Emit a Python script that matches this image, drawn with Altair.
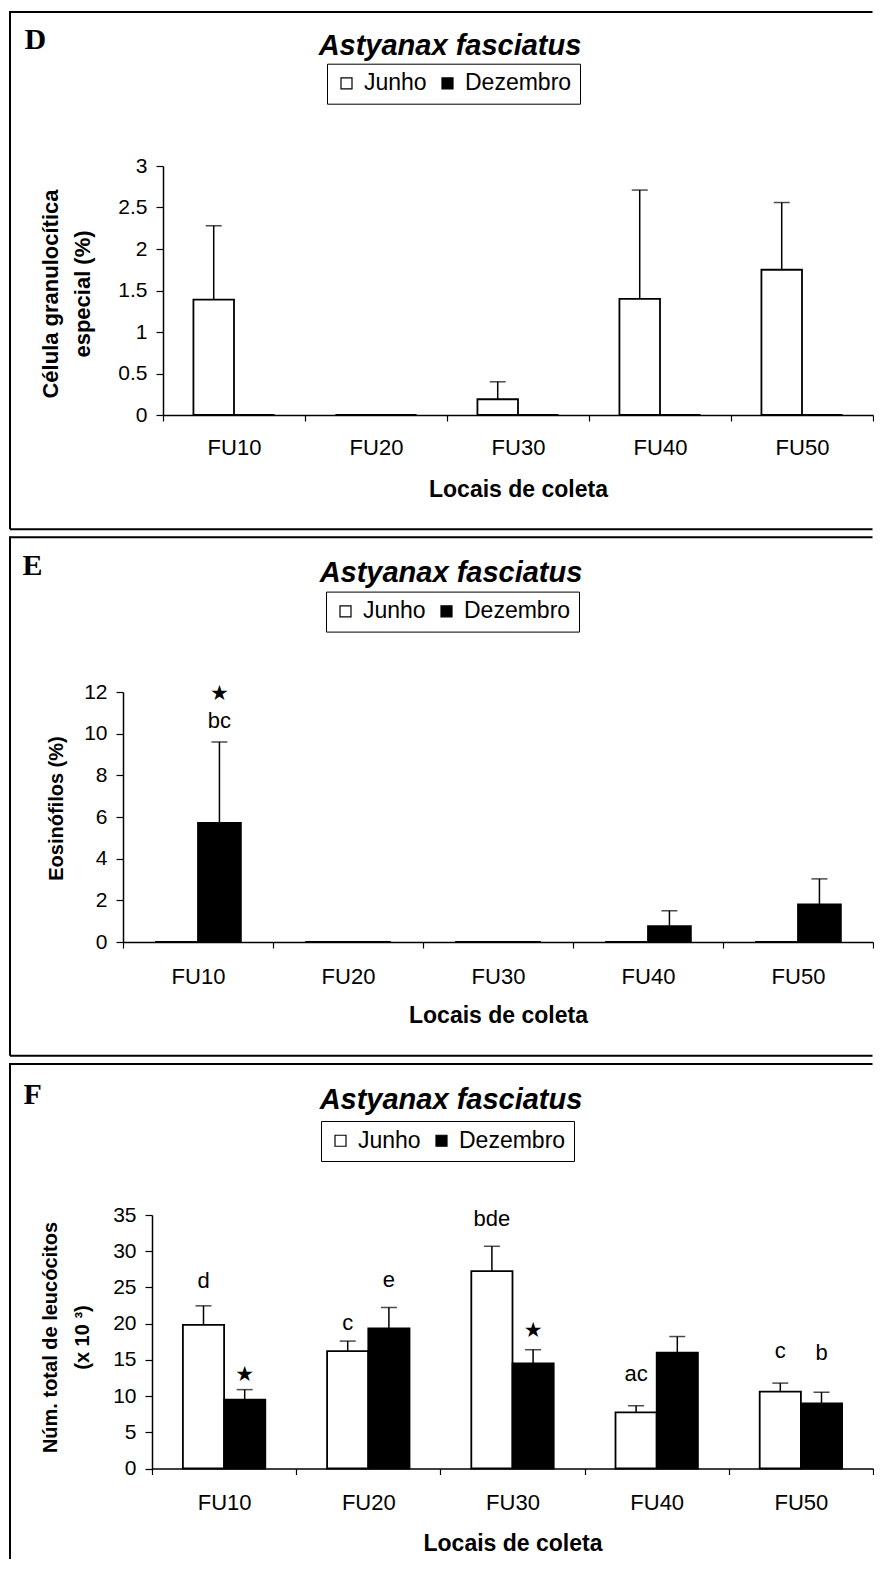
import altair as alt
import pandas as pd

# ---------------- data ----------------
sites = ["FU10", "FU20", "FU30", "FU40", "FU50"]
months = ["Junho", "Dezembro"]

# Panel D  (Célula granulocítica especial, %)
d_junho = [1.39, 0.0, 0.19, 1.40, 1.75]
d_junho_up = [2.28, None, 0.40, 2.71, 2.56]
d_dez = [0.0, 0.0, 0.0, 0.0, 0.0]
d_dez_up = [None, None, None, None, None]
d_ann_site, d_ann_month, d_ann_text, d_ann_y = [], [], [], []
d_star_site, d_star_month, d_star_y = [], [], []

# Panel E  (Eosinófilos, %)
e_junho = [0.0, 0.0, 0.0, 0.0, 0.0]
e_junho_up = [None, None, None, None, None]
e_dez = [5.72, 0.0, 0.0, 0.76, 1.81]
e_dez_up = [9.60, None, None, 1.50, 3.03]
e_ann_site, e_ann_month, e_ann_text, e_ann_y = ["FU10"], ["Dezembro"], ["bc"], [10.27]
e_star_site, e_star_month, e_star_y = ["FU10"], ["Dezembro"], [11.9]

# Panel F  (Núm. total de leucócitos, x10^3)
f_junho = [19.84, 16.21, 27.24, 7.74, 10.62]
f_junho_up = [22.46, 17.59, 30.68, 8.67, 11.79]
f_dez = [9.51, 19.34, 14.52, 15.98, 8.99]
f_dez_up = [10.89, 22.23, 16.40, 18.22, 10.53]
f_ann_site = ["FU10", "FU20", "FU20", "FU30", "FU40", "FU50", "FU50"]
f_ann_month = ["Junho", "Junho", "Dezembro", "Junho", "Junho", "Junho", "Dezembro"]
f_ann_text = ["d", "c", "e", "bde", "ac", "c", "b"]
f_ann_y = [24.9, 19.15, 25.1, 33.5, 12.1, 15.2, 14.96]
f_star_site, f_star_month, f_star_y = ["FU10", "FU30"], ["Dezembro", "Dezembro"], [12.9, 19.0]

SANS = "Liberation Sans"
SERIF = "Liberation Serif"
G = 123          # common group origin (page x) of every panel
RIGHT = 873      # page x of the right end of every x axis
W = RIGHT - G


def panel(letter, junho, junho_up, dez, dez_up, ann, stars, ymax, ystep, yfmt,
          ytitle, ytitle_size, geo):
    ax, oy, h = geo["origin"]
    ox = G
    left = ax - G
    rows = []
    for i, s in enumerate(sites):
        rows.append(dict(site=s, month="Junho", value=junho[i], upper=junho_up[i]))
        rows.append(dict(site=s, month="Dezembro", value=dez[i], upper=dez_up[i]))
    df = pd.DataFrame(rows)
    err = df[df["upper"].notna()].copy()

    xaxis = alt.Axis(
        labelAngle=0, labelFont=SANS, labelFontSize=22, labelColor="black",
        labelPadding=geo["xlabpad"], tickBand="extent", tickSize=6,
        tickColor="black", tickWidth=1.2, domainColor="black", domainWidth=1.5,
        grid=False, title="Locais de coleta", titleFont=SANS, titleFontSize=23,
        titleFontWeight="bold", titleColor="black", titleBaseline="alphabetic",
        titleX=(left + W) / 2, titleY=geo["xtitle_y"], titleAlign="center",
    )
    X = alt.X("site:N", sort=sites,
              scale=alt.Scale(domain=sites, paddingInner=0, paddingOuter=0,
                              range=[left, W]),
              axis=xaxis)
    XO = alt.XOffset("month:N", sort=months,
                     scale=alt.Scale(domain=months, paddingInner=0, paddingOuter=0.75))
    tick_vals = [round(ystep * k, 3) for k in range(int(round(ymax / ystep)) + 1)]
    yaxis = alt.Axis(
        values=tick_vals, format=yfmt, labelFont=SANS, labelFontSize=21,
        labelColor="black", labelPadding=9, tickSize=7, tickColor="black",
        tickWidth=1.2, domainColor="black", domainWidth=1.5, grid=False,
        offset=-left,
        title=ytitle, titleFont=SANS, titleFontSize=ytitle_size,
        titleFontWeight="bold", titleColor="black", titleAngle=-90,
        titleAlign="center", titleBaseline="alphabetic", titleLineHeight=32,
        titleX=geo["ytitle_x"] - ax, titleY=geo["ytitle_y"] - oy,
    )

    def Y(field):
        return alt.Y(field + ":Q", scale=alt.Scale(domain=[0, ymax], nice=False),
                     axis=yaxis)

    bars = alt.Chart(df).mark_bar(stroke="black", strokeWidth=1.8).encode(
        x=X, xOffset=XO, y=Y("value"),
        color=alt.Color("month:N", sort=months,
                        scale=alt.Scale(domain=months, range=["white", "black"]),
                        legend=alt.Legend(
                            title=None, orient="none", direction="horizontal",
                            legendX=geo["leg"][0] - ox, legendY=geo["leg"][1] - oy,
                            symbolType="square", symbolSize=121,
                            symbolStrokeColor="black", symbolStrokeWidth=1.2,
                            labelFont=SANS, labelFontSize=23, labelColor="black",
                            labelOffset=6, columnPadding=9, padding=8,
                            strokeColor="black", fillColor="white")),
    )
    rules = alt.Chart(err).mark_rule(color="black", strokeWidth=1.5).encode(
        x=X, xOffset=XO, y=Y("value"), y2="upper:Q")
    caps = alt.Chart(err).mark_tick(color="black", thickness=1.5, size=16).encode(
        x=X, xOffset=XO, y=Y("upper"))
    layers = [bars, rules, caps]

    if len(ann[0]):
        adf = pd.DataFrame(dict(site=ann[0], month=ann[1], text=ann[2], ly=ann[3]))
        layers.append(alt.Chart(adf).mark_text(
            font=SANS, fontSize=22, color="black", baseline="alphabetic",
            align="center").encode(x=X, xOffset=XO, y=Y("ly"), text="text:N"))
    if len(stars[0]):
        sdf = pd.DataFrame(dict(site=stars[0], month=stars[1], ly=stars[2]))
        layers.append(alt.Chart(sdf).mark_text(
            font="DejaVu Sans", fontSize=21, color="black", baseline="middle",
            align="center", text="\u2605").encode(x=X, xOffset=XO, y=Y("ly")))

    one = pd.DataFrame({"a": [0]})
    fl, ft, fr, fb = geo["frame"]
    frame = [
        alt.Chart(one).mark_rule(color="black", strokeWidth=2).encode(
            x=alt.value(fl - ox), x2=alt.value(fr - ox), y=alt.value(ft - oy)),
        alt.Chart(one).mark_rule(color="black", strokeWidth=2).encode(
            x=alt.value(fl - ox), y=alt.value(ft - oy - 1), y2=alt.value(fb - oy)),
    ]
    if geo.get("bottom_line", True):
        frame.append(alt.Chart(one).mark_rule(color="black", strokeWidth=2).encode(
            x=alt.value(fl - ox), x2=alt.value(fr - ox), y=alt.value(fb - oy)))
    if geo.get("pad_below"):
        frame.append(alt.Chart(one).mark_rule(strokeWidth=2, strokeOpacity=0, color="white").encode(
            x=alt.value(fl - ox), x2=alt.value(fl - ox + 5),
            y=alt.value(fb + geo["pad_below"] - oy)))
    lx, ly_ = geo["letter"]
    tx, ty = geo["title"]
    frame.append(alt.Chart(one).mark_text(
        font=SERIF, fontWeight="bold", fontSize=30, align="left",
        baseline="alphabetic", color="black", text=letter).encode(
        x=alt.value(lx - ox), y=alt.value(ly_ - oy)))
    frame.append(alt.Chart(one).mark_text(
        font=SANS, fontWeight="bold", fontStyle="italic", fontSize=29,
        align="center", baseline="alphabetic", color="black",
        text="Astyanax fasciatus").encode(
        x=alt.value(tx - ox), y=alt.value(ty - oy)))

    return alt.layer(*layers, *frame).properties(width=W, height=h)


FR = 872.5
geoD = dict(origin=(163, 165, 249), frame=(10, 11, FR, 528.3),
            letter=(24.5, 48.3), title=(450, 54), leg=(327, 62.7),
            xlabpad=16, xtitle_y=81, ytitle_x=57, ytitle_y=292.5)
geoE = dict(origin=(123, 689, 250), frame=(10, 534.3, FR, 1052.7),
            letter=(22.5, 572), title=(451, 579), leg=(326, 588.6),
            xlabpad=18, xtitle_y=80, ytitle_x=62, ytitle_y=805,
            pad_below=2.3)
geoF = dict(origin=(152, 1212, 253.5), frame=(10, 1061, FR, 1556),
            letter=(23.5, 1101), title=(451, 1106), leg=(321, 1118),
            xlabpad=18, xtitle_y=81.5, ytitle_x=56, ytitle_y=1334,
            bottom_line=False)

pD = panel("D", d_junho, d_junho_up, d_dez, d_dez_up,
           (d_ann_site, d_ann_month, d_ann_text, d_ann_y),
           (d_star_site, d_star_month, d_star_y),
           3, 0.5, "~g", ["Célula granulocítica", "especial (%)"], 22, geoD)
pE = panel("E", e_junho, e_junho_up, e_dez, e_dez_up,
           (e_ann_site, e_ann_month, e_ann_text, e_ann_y),
           (e_star_site, e_star_month, e_star_y),
           12, 2, "~g", "Eosinófilos (%)", 20, geoE)
pF = panel("F", f_junho, f_junho_up, f_dez, f_dez_up,
           (f_ann_site, f_ann_month, f_ann_text, f_ann_y),
           (f_star_site, f_star_month, f_star_y),
           35, 5, "~g", ["Núm. total de leucócitos", "(x 10 \u00b3)"], 20, geoF)

chart = alt.vconcat(pD, pE, pF, spacing=4).resolve_scale(
    color="independent", x="independent", y="independent", xOffset="independent"
).resolve_legend(color="independent").properties(
    padding={"left": 1, "top": 2, "right": 0, "bottom": 0},
    background="white",
).configure_view(stroke=None)

chart.save("out.html", embed_options={"renderer": "svg", "actions": False})
